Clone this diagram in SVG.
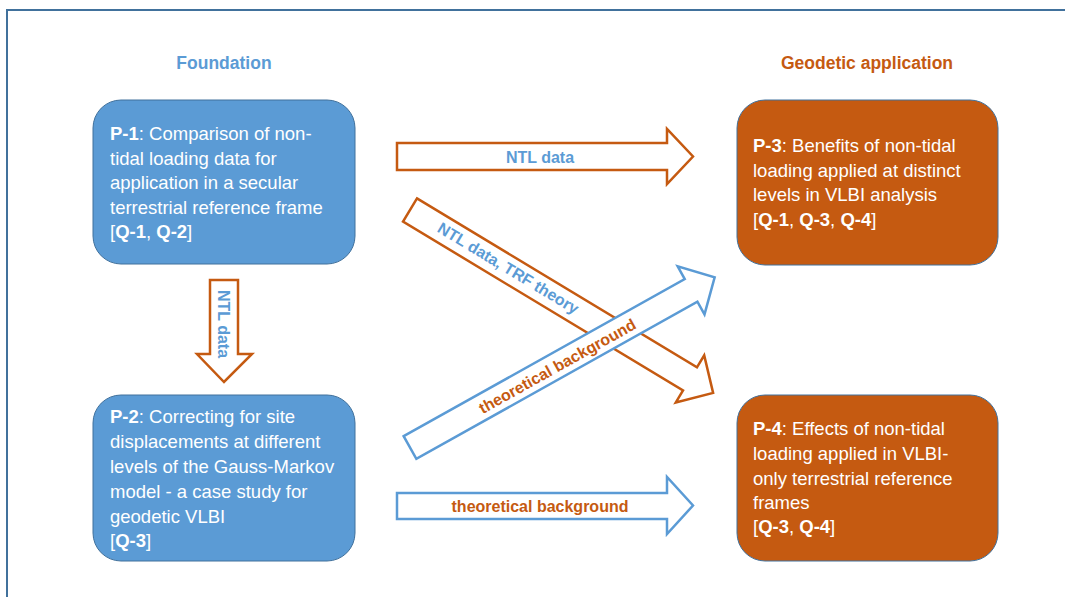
<svg xmlns="http://www.w3.org/2000/svg" width="1065" height="597" viewBox="0 0 1065 597">
<style>
.frame{fill:none;stroke:#41719C;stroke-width:2}
.box{stroke:#41719C;stroke-width:1}
.blue{fill:#5B9BD5}
.orange{fill:#C55A11}
.t{font-family:"Liberation Sans",Arial,sans-serif;font-size:18.5px;fill:#FFFFFF}
.b{font-weight:bold}
.hdr{font-family:"Liberation Sans",Arial,sans-serif;font-size:17.5px;font-weight:bold;text-anchor:middle}
.arrO{fill:#FFFFFF;stroke:#C55A11;stroke-width:2.5;stroke-linejoin:miter}
.arrB{fill:#FFFFFF;stroke:#5B9BD5;stroke-width:2.5;stroke-linejoin:miter}
.lbl{font-family:"Liberation Sans",Arial,sans-serif;font-size:16px;font-weight:bold;text-anchor:middle}
.lb{fill:#5B9BD5}
.lo{fill:#C55A11}
</style>
<rect x="0" y="0" width="1065" height="597" fill="#FFFFFF"/>
<path class="frame" d="M7,600 L7,10 L1070,10"/>
<text class="hdr lb" x="224" y="69">Foundation</text>
<text class="hdr lo" x="867" y="69">Geodetic application</text>

<g id="connectors">
  <g id="c-p1-p3">
    <path class="arrO" d="M397,143 L667,143 L667,129 L693,156.5 L667,184 L667,170 L397,170 Z"/>
    <text class="lbl lb" x="540" y="162.5">NTL data</text>
  </g>
  <g id="c-p1-p2">
    <path class="arrO" d="M210,280 L238,280 L238,354 L252,354 L224,382 L197,354 L210,354 Z"/>
    <text class="lbl lb" transform="translate(218,324) rotate(90)">NTL data</text>
  </g>
  <g id="c-p1-p4">
    <path class="arrO" transform="translate(410,210) rotate(31.1)" d="M0,-13.5 L327,-13.5 L327,-27.5 L354,0 L327,27.5 L327,13.5 L0,13.5 Z"/>
    <text class="lbl lb" transform="translate(505.5,273) rotate(31.1)">NTL data, TRF theory</text>
  </g>
  <g id="c-p2-p3">
    <path class="arrB" transform="translate(410,447.5) rotate(-29.2)" d="M0,-13 L322,-13 L322,-27.5 L349,0 L322,27.5 L322,13 L0,13 Z"/>
    <text class="lbl lo" transform="translate(560,371) rotate(-29.2)">theoretical background</text>
  </g>
  <g id="c-p2-p4">
    <path class="arrB" d="M397,493 L667,493 L667,477 L693,505.5 L667,534 L667,519 L397,519 Z"/>
    <text class="lbl lo" x="540" y="511.5">theoretical background</text>
  </g>
</g>

<g id="p1">
  <rect class="box blue" x="93" y="100" width="262" height="164" rx="28" ry="28"/>
  <text class="t" x="110" y="140"><tspan class="b">P-1</tspan>: Comparison of non-</text>
  <text class="t" x="110" y="164.5">tidal loading data for</text>
  <text class="t" x="110" y="189">application in a secular</text>
  <text class="t" x="110" y="213.5">terrestrial reference frame</text>
  <text class="t" x="110" y="238">[<tspan class="b">Q-1</tspan>, <tspan class="b">Q-2</tspan>]</text>
</g>
<g id="p2">
  <rect class="box blue" x="93" y="395" width="262" height="166" rx="28" ry="28"/>
  <text class="t" x="110" y="423"><tspan class="b">P-2</tspan>: Correcting for site</text>
  <text class="t" x="110" y="448">displacements at different</text>
  <text class="t" x="110" y="473">levels of the Gauss-Markov</text>
  <text class="t" x="110" y="498">model - a case study for</text>
  <text class="t" x="110" y="522.5">geodetic VLBI</text>
  <text class="t" x="110" y="547">[<tspan class="b">Q-3</tspan>]</text>
</g>
<g id="p3">
  <rect class="box orange" x="737" y="100" width="261" height="165" rx="28" ry="28"/>
  <text class="t" x="753" y="151.5"><tspan class="b">P-3</tspan>: Benefits of non-tidal</text>
  <text class="t" x="753" y="176.5">loading applied at distinct</text>
  <text class="t" x="753" y="201">levels in VLBI analysis</text>
  <text class="t" x="753" y="225.5">[<tspan class="b">Q-1</tspan>, <tspan class="b">Q-3</tspan>, <tspan class="b">Q-4</tspan>]</text>
</g>
<g id="p4">
  <rect class="box orange" x="737" y="395" width="261" height="166" rx="28" ry="28"/>
  <text class="t" x="753" y="435"><tspan class="b">P-4</tspan>: Effects of non-tidal</text>
  <text class="t" x="753" y="460">loading applied in VLBI-</text>
  <text class="t" x="753" y="484.5">only terrestrial reference</text>
  <text class="t" x="753" y="508.5">frames</text>
  <text class="t" x="753" y="533">[<tspan class="b">Q-3</tspan>, <tspan class="b">Q-4</tspan>]</text>
</g>
</svg>
